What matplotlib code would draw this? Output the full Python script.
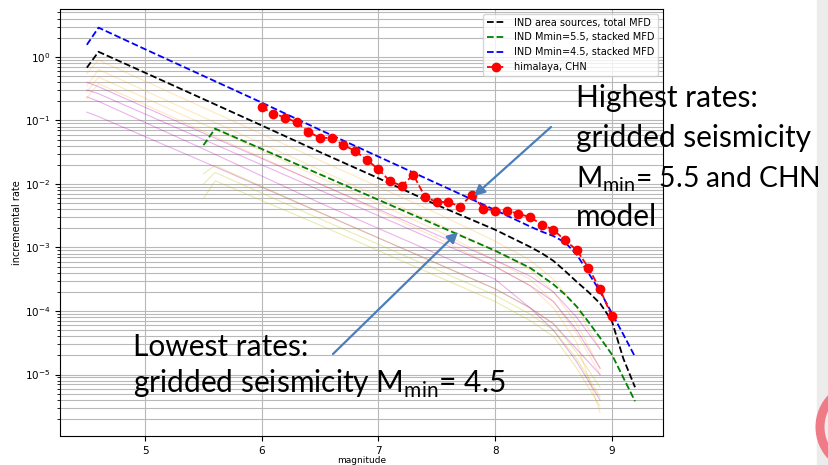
import numpy as np
import matplotlib
matplotlib.use("Agg")
import matplotlib.pyplot as plt
from matplotlib.patches import Rectangle, Circle

# --- main MFD curves (log10 of incremental rate) ---
mag_main = [4.5, 4.6, 5.0, 5.5, 6.0, 6.5, 7.0, 7.5, 8.0, 8.3, 8.4, 8.5, 8.6, 8.7, 8.8, 8.9, 9.0, 9.1, 9.2]
black_log = [-0.17, 0.08, -0.25, -0.665, -1.08, -1.50, -1.91, -2.33, -2.72, -2.99, -3.09, -3.21,
             -3.37, -3.54, -3.70, -3.88, -4.15, -4.75, -5.2]
blue_log = [0.19, 0.46, 0.12, -0.30, -0.72, -1.15, -1.57, -1.99, -2.41, -2.67, -2.75, -2.82,
            -2.92, -3.11, -3.40, -3.69, -4.03, -4.37, -4.72]

mag_green = [5.5, 5.6, 6.0, 6.5, 7.0, 7.5, 8.0, 8.3, 8.5, 8.6, 8.7, 8.8, 8.9, 9.0, 9.1, 9.2]
green_log = [-1.39, -1.13, -1.45, -1.85, -2.25, -2.65, -3.05, -3.32, -3.58, -3.74, -3.93,
             -4.17, -4.42, -4.68, -5.05, -5.42]

# --- himalaya, CHN ---
mag_chn = [6.0, 6.1, 6.2, 6.3, 6.4, 6.5, 6.6, 6.7, 6.8, 6.9, 7.0, 7.1, 7.2, 7.3, 7.4, 7.5,
           7.6, 7.7, 7.8, 7.9, 8.0, 8.1, 8.2, 8.3, 8.4, 8.5, 8.6, 8.7, 8.8, 8.9, 9.0]
rate_chn = [0.16, 0.128, 0.111, 0.093, 0.066, 0.053, 0.053, 0.041, 0.033, 0.024, 0.017,
            0.011, 0.0094, 0.0139, 0.0062, 0.0052, 0.0052, 0.0044, 0.0068, 0.0041, 0.0038,
            0.0038, 0.0034, 0.0030, 0.0023, 0.0019, 0.0013, 0.00091, 0.00048, 0.00022, 8.3e-5]

# --- faint individual source MFDs (log10) ---
mag_a = [4.5, 4.6, 5.5, 6.5, 7.5, 8.0, 8.3, 8.5, 8.7, 8.9]
orange_a = [
    [-0.26, -0.05, -0.80, -1.63, -2.46, -2.90, -3.20, -3.50, -3.95, -4.60],
    [-0.45, -0.20, -0.95, -1.78, -2.62, -3.05, -3.35, -3.70, -4.20, -4.90],
    [-0.55, -0.32, -1.06, -1.90, -2.73, -3.20, -3.50, -3.85, -4.35, -5.00],
    [-0.65, -0.42, -1.17, -2.00, -2.85, -3.30, -3.60, -3.95, -4.50, -5.60],
]
purple_a = [
    [-0.40, -0.47, -1.20, -2.00, -2.80, -3.20, -3.45, -3.70, -4.10, -4.60],
    [-0.52, -0.58, -1.30, -2.10, -2.90, -3.30, -3.60, -3.85, -4.30, -4.90],
    [-0.63, -0.70, -1.45, -2.30, -3.10, -3.50, -3.95, -4.20, -4.60, -5.00],
    [-0.87, -0.94, -1.65, -2.45, -3.25, -3.65, -3.95, -4.30, -4.80, -5.40],
]
mag_b = [5.5, 5.6, 6.5, 7.5, 8.0, 8.3, 8.5, 8.7, 8.9]
olive_b = [
    [-1.84, -1.71, -2.45, -3.25, -3.65, -3.95, -4.20, -4.65, -5.20],
    [-2.00, -1.82, -2.55, -3.35, -3.75, -4.05, -4.30, -4.75, -5.35],
    [-2.23, -1.95, -2.65, -3.45, -3.85, -4.15, -4.40, -4.90, -5.50],
]

fig = plt.figure(figsize=(8.29, 4.65), dpi=100)
ax = fig.add_axes([0.0724, 0.0624, 0.7274, 0.9186])

for v in orange_a:
    ax.plot(mag_a, 10 ** np.array(v), color="orange", alpha=0.25, lw=0.8)
for v in purple_a:
    ax.plot(mag_a, 10 ** np.array(v), color="m", alpha=0.3, lw=0.8)
for v in olive_b:
    ax.plot(mag_b, 10 ** np.array(v), color="y", alpha=0.3, lw=0.8)

ax.plot(mag_main, 10 ** np.array(black_log), "k--", lw=1.3, label="IND area sources, total MFD")
ax.plot(mag_green, 10 ** np.array(green_log), "g--", lw=1.3, label="IND Mmin=5.5, stacked MFD")
ax.plot(mag_main, 10 ** np.array(blue_log), "b--", lw=1.3, label="IND Mmin=4.5, stacked MFD")
ax.plot(mag_chn, rate_chn, "r--o", lw=1.3, ms=6, label="himalaya, CHN")

ax.set_yscale("log")
ax.set_xlim(4.27, 9.44)
ax.set_ylim(1.08e-6, 5.7)
ax.set_xticks([5, 6, 7, 8, 9])
ax.grid(True, which="both", color="#b8b8b8", lw=0.8)
ax.tick_params(labelsize=7.5)
ax.set_xlabel("magnitude", fontsize=6.5, labelpad=0.5)
ax.set_ylabel("incrememtal rate", fontsize=7, labelpad=2)
ax.legend(loc="upper right", fontsize=7, framealpha=0.8)

# --- slide annotations ---
tf = dict(family="Lato", fontsize=21.5, color="black", va="baseline", ha="left")
H = 465
fig.text(576, H - 106.7, "Highest rates:", transform=None, **tf)
fig.text(576, H - 147, "gridded seismicity", transform=None, **tf)
fig.text(576, H - 186.7, r"M$_{\mathregular{min}}$= 5.5 and CHN", transform=None,
         **{**tf, "fontsize": 20.3})
fig.text(576, H - 225.5, "model", transform=None, **tf)
fig.text(133, H - 356, "Lowest rates:", transform=None, **tf)
fig.text(133, H - 393.3, r"gridded seismicity M$_{\mathregular{min}}$= 4.5", transform=None, **tf)

arrow = dict(arrowstyle="-|>", color="#4a7ebb", lw=1.6, mutation_scale=16, shrinkA=0, shrinkB=0)
ax.annotate("", xy=(474, H - 196), xytext=(551, H - 127), xycoords="figure pixels",
            textcoords="figure pixels", arrowprops=arrow)
ax.annotate("", xy=(458, H - 232), xytext=(333, H - 354), xycoords="figure pixels",
            textcoords="figure pixels", arrowprops=arrow)

# slide decoration on the right edge
fig.patches.append(Rectangle((817, 0), 12, 465, transform=None, color="#ececec", zorder=-1))
fig.patches.append(Circle((862, 38), 42, transform=None, fill=False, ec="#ee7b85", lw=6.5))

fig.savefig("out.png", dpi=100)
